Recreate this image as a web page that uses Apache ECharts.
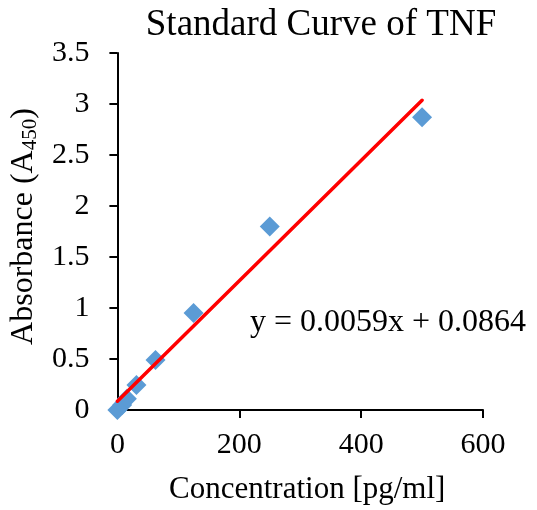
<!DOCTYPE html>
<html>
<head>
<meta charset="utf-8">
<script src="https://cdn.jsdelivr.net/npm/echarts@6/dist/echarts.min.js"></script>
<style>
  html, body { margin: 0; padding: 0; background: #fff; }
  #main { width: 537px; height: 510px; }
</style>
</head>
<body>
<div id="main"></div>
<script>
// standard concentrations (pg/ml) and measured absorbance
var concentrations = [0, 7.8, 15.6, 31.25, 62.5, 125, 250, 500];
var absorbance = [0.0, 0.05, 0.11, 0.245, 0.49, 0.95, 1.80, 2.87];

// linear trendline as printed on the chart
var slope = 0.0059;
var intercept = 0.0864;
var trendX = [0, 500];

var xTicks = [0, 200, 400, 600];
var yTicks = [0, 0.5, 1, 1.5, 2, 2.5, 3, 3.5];

var serif = '"Liberation Serif", "Times New Roman", serif';

var points = concentrations.map(function(c, i) {
	return [c, absorbance[i]];
});
var trend = trendX.map(function(x) {
	return [x, slope * x + intercept];
});

var chart = echarts.init(document.getElementById('main'));

chart.setOption({
	backgroundColor: '#fff',
	animation: false,
	title: {
		text: 'Standard Curve of TNF',
		left: 316,
		top: 2,
		textAlign: 'center',
		textStyle: { fontFamily: serif, fontWeight: 'normal', fontSize: 37, color: '#000' }
	},
	grid: { left: 117, right: 54, top: 53, bottom: 100 },
	xAxis: {
		type: 'value',
		min: xTicks[0],
		max: xTicks[xTicks.length - 1],
		interval: 200,
		name: 'Concentration [pg/ml]',
		nameLocation: 'middle',
		nameGap: 64,
		nameTextStyle: { fontFamily: serif, fontSize: 31, color: '#000', padding: [0, 0, 0, 14] },
		axisLine: { lineStyle: { color: '#000', width: 2 } },
		axisTick: { show: true, length: 8, lineStyle: { color: '#000', width: 2 } },
		axisLabel: { margin: 20, fontFamily: serif, fontSize: 30, color: '#000' },
		splitLine: { show: false }
	},
	yAxis: {
		type: 'value',
		min: yTicks[0],
		max: yTicks[yTicks.length - 1],
		interval: 0.5,
		name: '{a|Absorbance (A}{s|450}{a|)}',
		nameLocation: 'middle',
		nameGap: 62,
		nameRotate: 90,
		nameTextStyle: {
			padding: [0, 0, 0, 10],
			rich: {
				a: { fontFamily: serif, fontSize: 32, color: '#000' },
				s: { fontFamily: serif, fontSize: 21, color: '#000', padding: [13, 0, 0, 0] }
			}
		},
		axisLine: { show: true, lineStyle: { color: '#000', width: 2 } },
		axisTick: { show: true, length: 8, lineStyle: { color: '#000', width: 2 } },
		axisLabel: { margin: 28, fontFamily: serif, fontSize: 30, color: '#000' },
		splitLine: { show: false }
	},
	graphic: [{
		type: 'text',
		left: 250,
		top: 307,
		style: {
			text: 'y = 0.0059x + 0.0864',
			font: '32px ' + serif,
			fill: '#000'
		}
	}],
	series: [{
		type: 'scatter',
		data: points,
		symbol: 'diamond',
		symbolSize: 20,
		itemStyle: { color: '#5B9BD5', opacity: 1 },
		z: 2
	}, {
		type: 'line',
		data: trend,
		symbol: 'none',
		lineStyle: { color: '#FF0000', width: 3.5, cap: 'round' },
		z: 3
	}]
});
</script>
</body>
</html>
